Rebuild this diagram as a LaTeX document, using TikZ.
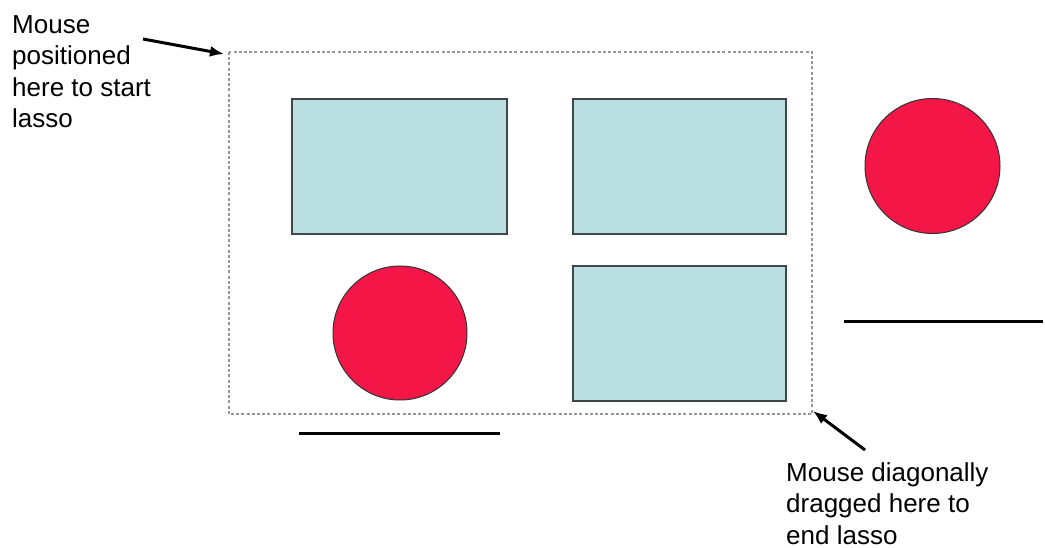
\documentclass[tikz,border=0pt]{standalone}
\usepackage{fontspec}
\setmainfont{Liberation Sans}
\usetikzlibrary{arrows.meta}
\definecolor{boxfill}{RGB}{187,224,227}
\definecolor{boxline}{RGB}{64,70,72}
\definecolor{ballfill}{RGB}{244,22,70}
\definecolor{lassocol}{RGB}{150,150,150}
\tikzset{
  shapebox/.style={draw=boxline, line width=1.4pt, fill=boxfill},
  ball/.style={draw=black!80, line width=1pt, fill=ballfill},
  bar/.style={line width=3pt, black},
  lasso/.style={draw=lassocol, line width=1.2pt, dash pattern=on 3pt off 2.2pt},
  pointer/.style={line width=3pt, -{Latex[length=14pt,width=11pt]}},
  note/.style={inner sep=0pt, align=left, anchor=north west,
    font=\fontsize{26}{31.5}\selectfont}
}
\begin{document}
\begin{tikzpicture}[x=1pt,y=-1pt]
\useasboundingbox (0,0) rectangle (1045,548);
% lasso
\draw[lasso] (229,52) rectangle (812,414);
% boxes
\draw[shapebox] (292,99) rectangle (507,234);
\draw[shapebox] (573,99) rectangle (786,234);
\draw[shapebox] (573,266) rectangle (786,401);
% balls
\draw[ball] (400,333) circle (67);
\draw[ball] (932.5,166) circle (67.5);
% bars
\draw[bar] (299,433.5) -- (500,433.5);
\draw[bar] (844,322) -- (1043,322);
% notes
\node[note] (startnote) at (12,15) {Mouse\\positioned\\here to start\\lasso};
\node[note] (endnote) at (786,462) {Mouse diagonally\\dragged here to\\end lasso};
% pointers
\coordinate (starttail) at (143,39);
\coordinate (starttip) at (224,54);
\coordinate (endtail) at (865,450);
\coordinate (endtip) at (813,411);
\draw[pointer] (starttail) -- (starttip);
\draw[pointer] (endtail) -- (endtip);
\end{tikzpicture}
\end{document}
